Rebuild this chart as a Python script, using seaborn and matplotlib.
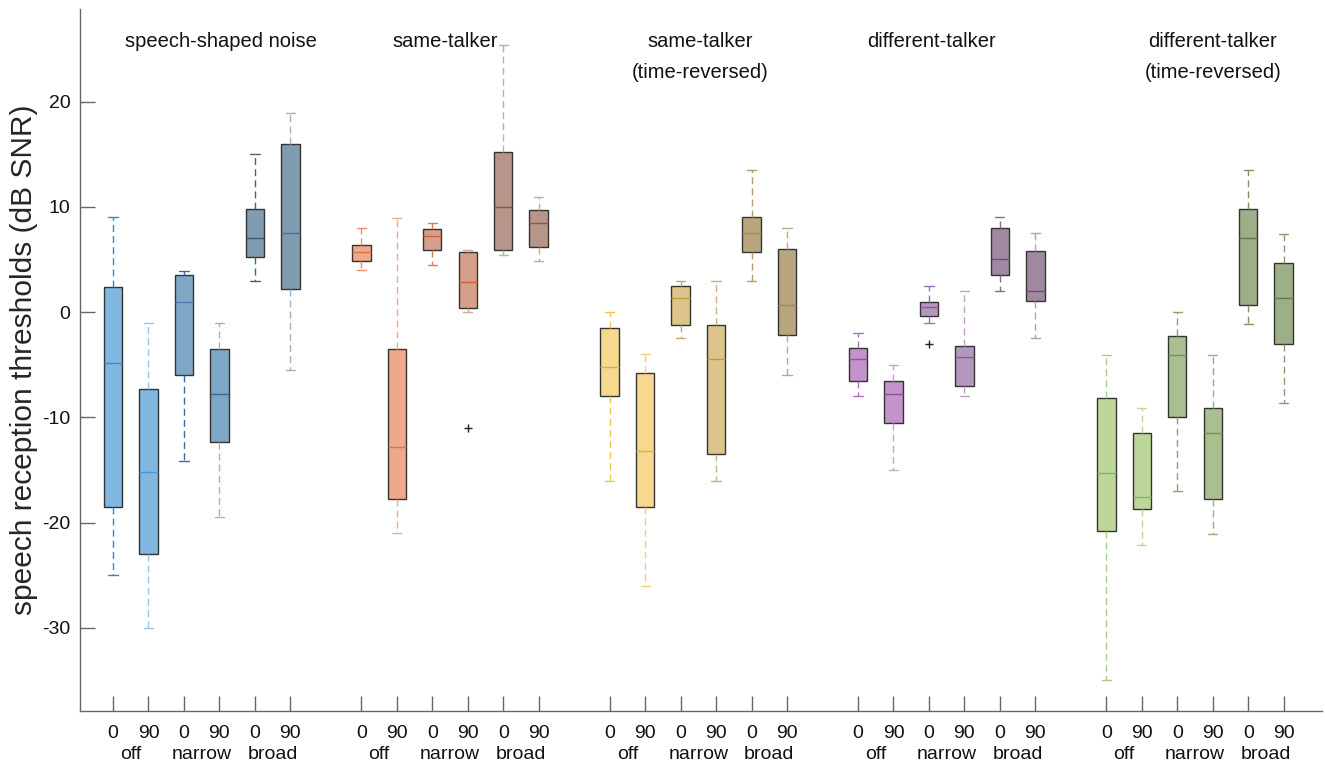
import numpy as np
import pandas as pd
import matplotlib
matplotlib.use("Agg")
import matplotlib.pyplot as plt
import seaborn as sns

# --- DATA (dB SNR) ---
maskers = ["speech-shaped noise", "same-talker", "same-talker\n(time-reversed)",
           "different-talker", "different-talker\n(time-reversed)"]
processing = ["off", "narrow", "broad"]
angles = ["0", "90"]

# one value per box: 5 maskers x (off 0, off 90, narrow 0, narrow 90, broad 0, broad 90)
whisker_lo = [-25.0, -30.0, -14.1, -19.5, 3.0, -5.5,
              4.0, -21.0, 4.5, 0.0, 5.4, 4.9,
              -16.0, -26.0, -2.5, -16.0, 3.0, -6.0,
              -8.0, -15.0, -1.0, -8.0, 2.0, -2.5,
              -35.0, -22.1, -17.0, -21.1, -1.1, -8.6]
q1 = [-18.5, -23.0, -6.0, -12.3, 5.2, 2.2,
      4.9, -17.8, 5.9, 0.4, 5.9, 6.2,
      -8.0, -18.5, -1.2, -13.5, 5.7, -2.2,
      -6.5, -10.5, -0.4, -7.0, 3.5, 1.1,
      -20.8, -18.7, -10.0, -17.8, 0.7, -3.0]
median = [-4.8, -15.2, 1.0, -7.8, 7.0, 7.5,
          5.7, -12.8, 7.2, 2.9, 10.0, 8.5,
          -5.2, -13.2, 1.3, -4.5, 7.5, 0.7,
          -4.5, -7.8, 0.5, -4.3, 5.0, 2.0,
          -15.3, -17.6, -4.1, -11.5, 7.0, 1.3]
q3 = [2.4, -7.3, 3.5, -3.5, 9.8, 16.0,
      6.4, -3.5, 7.9, 5.7, 15.2, 9.7,
      -1.5, -5.8, 2.5, -1.2, 9.0, 6.0,
      -3.4, -6.5, 1.0, -3.2, 8.0, 5.8,
      -8.2, -11.5, -2.3, -9.1, 9.8, 4.7]
whisker_hi = [9.0, -1.0, 3.9, -1.0, 15.0, 18.9,
              8.0, 8.9, 8.5, 5.9, 25.4, 10.9,
              0.0, -4.0, 3.0, 3.0, 13.5, 8.0,
              -2.0, -5.0, 2.5, 2.0, 9.0, 7.5,
              -4.1, -9.1, 0.0, -4.1, 13.5, 7.4]

# outliers: (box index, value)
outlier_box = [9, 20]
outlier_val = [-11.0, -3.0]

# --- COLOURS ---
face_colors = ["#80b6df", "#80b6df", "#7ea7c6", "#7ea7c6", "#7f9cb0", "#7f9cb0",
               "#eea98a", "#eea98a", "#d5a08a", "#d5a08a", "#b6968a", "#b6968a",
               "#f6d98e", "#f6d98e", "#dcc48c", "#dcc48c", "#b8a67e", "#b8a67e",
               "#c394cb", "#c394cb", "#b597be", "#b597be", "#9f88a0", "#9f88a0",
               "#bdd798", "#bdd798", "#a9bf8e", "#a9bf8e", "#9caf88", "#9caf88"]
whisker_colors = ["#2b8ad6", "#96c6ea", "#3a6d9f", "#9ab6cc", "#3f6585", "#a0b2bf",
                  "#ee8c68", "#f0a88c", "#e07a55", "#d9a592", "#d0a898", "#c2aaa0",
                  "#f2c450", "#f6cf6a", "#c9a860", "#c9b080", "#b69d6a", "#b8a888",
                  "#b070c0", "#c9a0d0", "#a070b0", "#c0a0c8", "#8a6a90", "#b0a0b8",
                  "#a8d080", "#b8d898", "#88a868", "#98b080", "#7c9468", "#8a9a78"]
median_colors = ["#3c8ccc", "#4a94cf", "#4a7fae", "#3b6894", "#355d7a", "#4d7088",
                 "#e0703f", "#e0703f", "#d0603a", "#c8603a", "#a04a2a", "#a84e2e",
                 "#e0b030", "#e0b030", "#c49a3c", "#c49a3c", "#a08a4c", "#a08a4c",
                 "#9a4aa8", "#9a4aa8", "#8a5a98", "#8a5a98", "#6e4f78", "#6e4f78",
                 "#88b060", "#88b060", "#70944c", "#70944c", "#5e7a48", "#5e7a48"]

# --- BUILD LONG TABLE (5 points per box reproduce the box stats) ---
rows = []
box_ids = []
positions = []
for i in range(len(median)):
    g, c = divmod(i, 6)
    pos = g * 7 + c + 1
    bid = f"b{i:02d}"
    box_ids.append(bid)
    positions.append(pos)
    for v in (whisker_lo[i], q1[i], median[i], q3[i], whisker_hi[i]):
        rows.append({"pos": pos, "box": bid, "srt": v})
df = pd.DataFrame(rows)
palette = dict(zip(box_ids, face_colors))

fl = pd.DataFrame({"pos": [positions[b] for b in outlier_box], "srt": outlier_val})

sns.set_style("ticks")
plt.rcParams["font.family"] = ["Liberation Sans", "DejaVu Sans"]
plt.rcParams["axes.unicode_minus"] = False

fig = plt.figure(figsize=(13.25, 7.63), dpi=100)
ax = fig.add_axes([80 / 1325, 1 - 711 / 763, 1242 / 1325, 702 / 763])

sns.boxplot(data=df, x="pos", y="srt", hue="box", hue_order=box_ids, palette=palette,
            native_scale=True, dodge=False, width=0.52, whis=(0, 100),
            linecolor="#333333", linewidth=1.0, saturation=1, legend=False, ax=ax)

for i, bc in enumerate(ax.containers):
    for w in bc.whiskers:
        w.set_color(whisker_colors[i])
        w.set_linestyle((0, (5, 3)))
    for c in bc.caps:
        c.set_color(whisker_colors[i])
    for m in bc.medians:
        m.set_color(median_colors[i])
        m.set_linewidth(1.0)

sns.scatterplot(data=fl, x="pos", y="srt", marker="+", color="#222222", s=30,
                linewidth=1.0, legend=False, ax=ax, zorder=5)

ax.set_xlim(0.07, 35.08)
ax.set_ylim(-37.9, 28.8)
ax.set_xticks(positions)
ax.set_xticklabels([angles[i % 2] for i in range(len(positions))])
ax.set_yticks([-30, -20, -10, 0, 10, 20])
ax.tick_params(axis="both", direction="in", length=11, width=1, color="#666666",
               labelsize=14, labelcolor="#111111")
ax.tick_params(axis="x", pad=10)
ax.tick_params(axis="y", pad=7)
sns.despine(ax=ax)
for s in ("left", "bottom"):
    ax.spines[s].set_color("#666666")
    ax.spines[s].set_linewidth(1)

ax.set_xlabel("")
ax.set_ylabel("speech reception thresholds (dB SNR)", fontsize=21.5)
ax.yaxis.set_label_coords(-0.034, 0.5)

# processing labels under each angle pair
xt = ax.get_xaxis_transform()
for g in range(5):
    for k, name in enumerate(processing):
        ax.text(g * 7 + 2 * k + 1.5, -0.062, name, transform=xt, ha="center",
                va="center", fontsize=14, color="#111111")

# masker titles
title_x = [4.04, 10.36, 17.55, 24.08, 32.0]
for tx, name in zip(title_x, maskers):
    ax.text(tx, 26.6, name, ha="center", va="top", fontsize=14.5,
            linespacing=1.8, color="#111111")

fig.savefig("out.png", dpi=100)
